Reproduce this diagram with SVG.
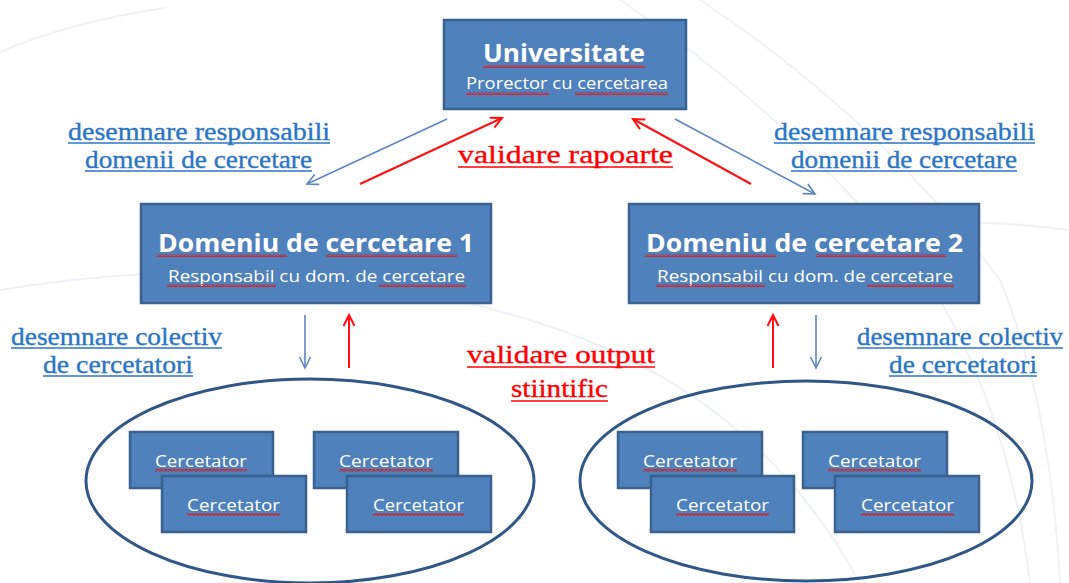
<svg xmlns="http://www.w3.org/2000/svg" width="1069" height="583" viewBox="0 0 1069 583">
<defs>
<style>
.box{fill:#4F81BD;stroke:#3A6290;stroke-width:2.5}
.cbox{fill:#4F81BD;stroke:#3A6290;stroke-width:2.5}
.ell{fill:none;stroke:#2F5888;stroke-width:3}
.wt{fill:#FFFFFF;font-family:"Open Sans","Noto Sans",sans-serif;text-anchor:middle}
.ttl{font-weight:bold;font-size:25px}
.sub{font-size:17px}
.cer{font-size:17px}
.lbl{fill:#2A76C6;stroke:#2A76C6;stroke-width:0.35;font-family:"Liberation Serif","DejaVu Serif",serif;font-size:25px;text-anchor:middle}
.red{fill:#FF0000;stroke:#FF0000;stroke-width:0.35;font-family:"Liberation Serif","DejaVu Serif",serif;font-size:26px;text-anchor:middle}
.ulb{stroke:#2A76C6;stroke-width:1.4}
.ulr{stroke:#FF0000;stroke-width:1.6}
.ab{stroke:#5B87C0;stroke-width:1.6;fill:none}
.ar{stroke:#FF1010;stroke-width:2;fill:none}
.sq{fill:url(#sqp)}
.bg{fill:none;stroke:#EEF1F5;stroke-width:2}
</style>
<pattern id="sqp" patternUnits="userSpaceOnUse" x="0" y="0" width="4" height="3">
<path d="M0,0.5 L2,2.5 L4,0.5" stroke="#E01818" stroke-width="1.1" fill="none"/>
</pattern>
<marker id="mb" markerUnits="userSpaceOnUse" markerWidth="14" markerHeight="14" refX="12" refY="7" orient="auto">
<path d="M1,1.5 L12,7 L1,12.5" stroke="#5B87C0" stroke-width="1.6" fill="none"/>
</marker>
<marker id="mr" markerUnits="userSpaceOnUse" markerWidth="14" markerHeight="14" refX="12" refY="7" orient="auto">
<path d="M1,1.5 L12,7 L1,12.5" stroke="#FF1010" stroke-width="2" fill="none"/>
</marker>
</defs>
<rect width="1069" height="583" fill="#FFFFFF"/>
<g id="background">
<path class="bg" d="M0,52 Q70,22 165,8"/>
<path class="bg" d="M0,290 Q300,240 560,330 Q760,400 860,583"/>
<path class="bg" d="M620,0 Q800,120 940,300 Q1010,420 1030,583"/>
<path class="bg" d="M700,0 Q880,120 1000,280 Q1050,400 1060,583"/>
<path class="bg" d="M1069,230 Q950,215 880,230"/>
</g>
<g id="connectors">
<line class="ab" x1="447" y1="119" x2="307" y2="184" marker-end="url(#mb)"/>
<line class="ar" x1="360" y1="184" x2="502" y2="118" marker-end="url(#mr)"/>
<line class="ar" x1="751" y1="184" x2="633" y2="119" marker-end="url(#mr)"/>
<line class="ab" x1="675" y1="119" x2="815" y2="194" marker-end="url(#mb)"/>
<line class="ab" x1="305" y1="315" x2="305" y2="368" marker-end="url(#mb)"/>
<line class="ar" x1="349" y1="368" x2="349" y2="315" marker-end="url(#mr)"/>
<line class="ar" x1="773" y1="368" x2="773" y2="315" marker-end="url(#mr)"/>
<line class="ab" x1="816" y1="315" x2="816" y2="368" marker-end="url(#mb)"/>
</g>
<g id="labels">
<text class="lbl" x="199" y="140" textLength="262" lengthAdjust="spacingAndGlyphs">desemnare responsabili</text>
<line class="ulb" x1="68" y1="143" x2="330" y2="143"/>
<text class="lbl" x="198.5" y="168" textLength="227" lengthAdjust="spacingAndGlyphs">domenii de cercetare</text>
<line class="ulb" x1="85" y1="171" x2="312" y2="171"/>
<text class="lbl" x="904.5" y="140" textLength="261" lengthAdjust="spacingAndGlyphs">desemnare responsabili</text>
<line class="ulb" x1="774" y1="143" x2="1035" y2="143"/>
<text class="lbl" x="904" y="168" textLength="226" lengthAdjust="spacingAndGlyphs">domenii de cercetare</text>
<line class="ulb" x1="791" y1="171" x2="1017" y2="171"/>
<text class="red" x="565.5" y="163" textLength="215" lengthAdjust="spacingAndGlyphs">validare rapoarte</text>
<line class="ulr" x1="458" y1="167" x2="673" y2="167"/>
<text class="lbl" x="116.5" y="345" textLength="211" lengthAdjust="spacingAndGlyphs">desemnare colectiv</text>
<line class="ulb" x1="11" y1="348" x2="222" y2="348"/>
<text class="lbl" x="118" y="373" textLength="150" lengthAdjust="spacingAndGlyphs">de cercetatori</text>
<line class="ulb" x1="43" y1="376" x2="193" y2="376"/>
<text class="lbl" x="960" y="345" textLength="206" lengthAdjust="spacingAndGlyphs">desemnare colectiv</text>
<line class="ulb" x1="857" y1="348" x2="1063" y2="348"/>
<text class="lbl" x="963" y="373" textLength="148" lengthAdjust="spacingAndGlyphs">de cercetatori</text>
<line class="ulb" x1="889" y1="376" x2="1037" y2="376"/>
<text class="red" x="561" y="363" textLength="188" lengthAdjust="spacingAndGlyphs">validare output</text>
<line class="ulr" x1="467" y1="367" x2="655" y2="367"/>
<text class="red" x="559.5" y="397" textLength="97" lengthAdjust="spacingAndGlyphs">stiintific</text>
<line class="ulr" x1="511" y1="401" x2="608" y2="401"/>
</g>
<g id="universitate">
<rect class="box" x="444" y="20" width="242" height="89"/>
<text class="wt ttl" x="564" y="62" textLength="162" lengthAdjust="spacingAndGlyphs">Universitate</text>
<text class="wt sub" x="567" y="89" textLength="202" lengthAdjust="spacingAndGlyphs">Prorector cu cercetarea</text>
<rect class="sq" x="483" y="65" width="162" height="3"/>
<rect class="sq" x="466" y="92" width="83" height="3"/>
<rect class="sq" x="575" y="92" width="93" height="3"/>
</g>
<g id="domeniu1">
<rect class="box" x="141" y="204" width="350" height="99"/>
<text class="wt ttl" x="316" y="252" textLength="316" lengthAdjust="spacingAndGlyphs">Domeniu de cercetare 1</text>
<text class="wt sub" x="316.5" y="282" textLength="297" lengthAdjust="spacingAndGlyphs">Responsabil cu dom. de cercetare</text>
<rect class="sq" x="157" y="254" width="130" height="3"/>
<rect class="sq" x="326" y="254" width="131" height="3"/>
<rect class="sq" x="167" y="284" width="109" height="3"/>
<rect class="sq" x="379" y="284" width="87" height="3"/>
</g>
<g id="domeniu2">
<rect class="box" x="629" y="204" width="350" height="99"/>
<text class="wt ttl" x="804.5" y="252" textLength="317" lengthAdjust="spacingAndGlyphs">Domeniu de cercetare 2</text>
<text class="wt sub" x="805" y="282" textLength="296" lengthAdjust="spacingAndGlyphs">Responsabil cu dom. de cercetare</text>
<rect class="sq" x="645" y="254" width="131" height="3"/>
<rect class="sq" x="816" y="254" width="130" height="3"/>
<rect class="sq" x="656" y="284" width="109" height="3"/>
<rect class="sq" x="867" y="284" width="87" height="3"/>
</g>
<g id="colectiv1">
<ellipse class="ell" cx="310" cy="481" rx="224" ry="102"/>
</g>
<g id="colectiv2">
<ellipse class="ell" cx="806" cy="481" rx="226" ry="100"/>
</g>
<g id="cercetator1a">
<rect class="cbox" x="130" y="432" width="143" height="56"/>
<text class="wt cer" x="201" y="467" textLength="92" lengthAdjust="spacingAndGlyphs">Cercetator</text>
<rect class="sq" x="155" y="469" width="92" height="3"/>
</g>
<g id="cercetator1b">
<rect class="cbox" x="162" y="476" width="144" height="56"/>
<text class="wt cer" x="233.5" y="511" textLength="93" lengthAdjust="spacingAndGlyphs">Cercetator</text>
<rect class="sq" x="187" y="513" width="93" height="3"/>
</g>
<g id="cercetator1c">
<rect class="cbox" x="314" y="432" width="144" height="56"/>
<text class="wt cer" x="386" y="467" textLength="94" lengthAdjust="spacingAndGlyphs">Cercetator</text>
<rect class="sq" x="339" y="469" width="94" height="3"/>
</g>
<g id="cercetator1d">
<rect class="cbox" x="347" y="476" width="144" height="56"/>
<text class="wt cer" x="418.5" y="511" textLength="91" lengthAdjust="spacingAndGlyphs">Cercetator</text>
<rect class="sq" x="373" y="513" width="91" height="3"/>
</g>
<g id="cercetator2a">
<rect class="cbox" x="618" y="432" width="144" height="56"/>
<text class="wt cer" x="690" y="467" textLength="94" lengthAdjust="spacingAndGlyphs">Cercetator</text>
<rect class="sq" x="643" y="469" width="94" height="3"/>
</g>
<g id="cercetator2b">
<rect class="cbox" x="651" y="476" width="143" height="56"/>
<text class="wt cer" x="722.5" y="511" textLength="93" lengthAdjust="spacingAndGlyphs">Cercetator</text>
<rect class="sq" x="676" y="513" width="93" height="3"/>
</g>
<g id="cercetator2c">
<rect class="cbox" x="803" y="432" width="144" height="56"/>
<text class="wt cer" x="874.5" y="467" textLength="93" lengthAdjust="spacingAndGlyphs">Cercetator</text>
<rect class="sq" x="828" y="469" width="93" height="3"/>
</g>
<g id="cercetator2d">
<rect class="cbox" x="835" y="476" width="144" height="56"/>
<text class="wt cer" x="907.5" y="511" textLength="93" lengthAdjust="spacingAndGlyphs">Cercetator</text>
<rect class="sq" x="861" y="513" width="93" height="3"/>
</g>
</svg>
